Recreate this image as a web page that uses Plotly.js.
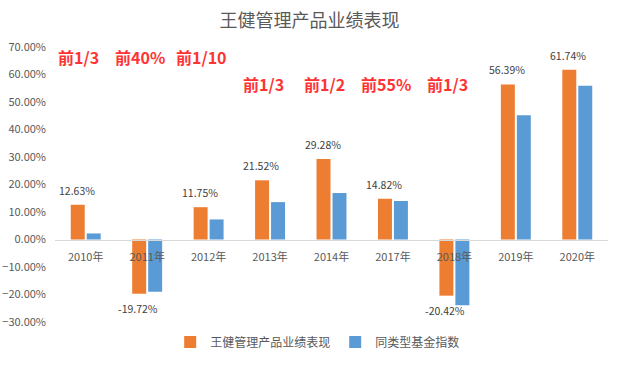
<!DOCTYPE html>
<html>
<head>
<meta charset="utf-8">
<script src="https://cdn.plot.ly/plotly-3.0.1.min.js"></script>
<style>html,body{margin:0;padding:0;background:#fff}#chart{width:619px;height:368px}</style>
</head>
<body>
<div id="chart"></div>
<script>
var categories = ['2010年','2011年','2012年','2013年','2014年','2017年','2018年','2019年','2020年'];
var wangJian = [12.63, -19.72, 11.75, 21.52, 29.28, 14.82, -20.42, 56.39, 61.74];
var peerIndex = [2.2, -19.0, 7.3, 13.6, 16.9, 14.0, -23.9, 45.2, 55.9];
var rankLabels = ['前1/3','前40%','前1/10','前1/3','前1/2','前55%','前1/3','前1/3','前1/2'];
var rankLevel = [66.3, 66.3, 66.3, 56.5, 56.5, 56.5, 56.5, 75, 77];

var font = '"Noto Sans CJK SC", "Microsoft YaHei", sans-serif';

var traces = [
  {
    type: 'bar', name: '王健管理产品业绩表现', x: categories, y: wangJian,
    marker: {color: '#ED7D31'},
    hoverinfo: 'none'
  },
  {
    type: 'bar', name: '同类型基金指数', x: categories, y: peerIndex,
    marker: {color: '#5B9BD5'},
    hoverinfo: 'none'
  }
];

var annotations = categories.map(function(c, i){
  return {
    x: c, y: rankLevel[i], xref: 'x', yref: 'y', text: rankLabels[i],
    showarrow: false, xshift: -7,
    font: {family: font, size: 16, color: '#FF3333', weight: 'bold'}
  };
});
categories.forEach(function(c, i){
  var v = wangJian[i];
  annotations.push({
    x: c, y: v, xref: 'x', yref: 'y', text: v.toFixed(2) + '%',
    showarrow: false, xshift: -9, yanchor: v >= 0 ? 'bottom' : 'top',
    yshift: v >= 0 ? 5 : -5,
    font: {family: font, size: 10.5, color: '#404040'}
  });
});

var layout = {
  width: 619, height: 368,
  margin: {l: 55, r: 11, t: 47, b: 46},
  paper_bgcolor: '#fff', plot_bgcolor: '#fff',
  font: {family: font, color: '#595959', size: 11},
  title: {text: '王健管理产品业绩表现', x: 0.5, xanchor: 'center', y: 0.943, yanchor: 'middle',
          font: {family: font, size: 18, color: '#595959'}},
  barmode: 'group', bargap: 0.48, bargroupgap: 0.125,
  xaxis: {
    anchor: 'free', position: 0.3, showline: true, linecolor: '#D9D9D9', linewidth: 1,
    showgrid: false, ticks: '', tickfont: {family: font, size: 11, color: '#595959'},
    fixedrange: true, ticklabelstandoff: 7
  },
  yaxis: {
    range: [-30, 70], dtick: 10, tick0: 0, showgrid: false, zeroline: false,
    tickformat: '.2f', ticksuffix: '%', showline: false, ticks: '',
    tickfont: {family: font, size: 11, color: '#595959'}, fixedrange: true,
    ticklabelstandoff: 8
  },
  legend: {orientation: 'h', x: 0.475, xanchor: 'center', y: -0.02, yanchor: 'top',
           font: {family: font, size: 12, color: '#595959'}, itemwidth: 30},
  annotations: annotations,
  showlegend: true
};

Plotly.newPlot('chart', traces, layout, {staticPlot: true, displayModeBar: false});
</script>
</body>
</html>
